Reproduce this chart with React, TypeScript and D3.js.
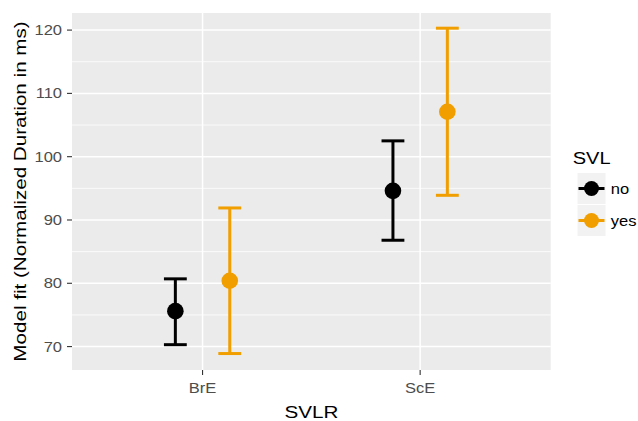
import React from "react";
import * as d3 from "d3";

// Model fits with confidence limits, per SVLR variety and SVL group
const categories = ["BrE", "ScE"];
const groups = ["no", "yes"];
const fitNo = [75.6, 94.6];
const lowerNo = [70.3, 86.8];
const upperNo = [80.7, 102.5];
const fitYes = [80.4, 107.1];
const lowerYes = [68.9, 93.9];
const upperYes = [91.9, 120.3];
const yTicks = [70, 80, 90, 100, 110, 120];
const yMinorTicks = [75, 85, 95, 105, 115];

const colors = ["#000000", "#F09E00"];

const W = 638;
const H = 421;
const panel = { left: 72, top: 13, right: 550.7, bottom: 370 };

const font = "'Liberation Sans', Arial, sans-serif";
const stretch = 1.18;

export default function App() {
  const x = d3
    .scaleLinear()
    .domain([0.4, categories.length + 0.6])
    .range([panel.left, panel.right]);
  const y = d3.scaleLinear().domain([66.3, 122.7]).range([panel.bottom, panel.top]);

  const dodge = 0.125;
  const capHalf = 0.0525;

  const series = [
    { name: groups[0], fit: fitNo, lo: lowerNo, hi: upperNo, color: colors[0], off: -dodge },
    { name: groups[1], fit: fitYes, lo: lowerYes, hi: upperYes, color: colors[1], off: dodge },
  ];

  const catPos = (i: number) => i + 1;

  return (
    <svg
      width={W}
      height={H}
      style={{ position: "absolute", left: 0, top: 0, background: "#fff" }}
      fontFamily={font}
    >
      {/* panel */}
      <rect
        x={panel.left}
        y={panel.top}
        width={panel.right - panel.left}
        height={panel.bottom - panel.top}
        fill="#EBEBEB"
      />
      {yMinorTicks.map((t) => (
        <line
          key={"mi" + t}
          x1={panel.left}
          x2={panel.right}
          y1={y(t)}
          y2={y(t)}
          stroke="#fff"
          strokeWidth={0.8}
        />
      ))}
      {yTicks.map((t) => (
        <line
          key={"ma" + t}
          x1={panel.left}
          x2={panel.right}
          y1={y(t)}
          y2={y(t)}
          stroke="#fff"
          strokeWidth={1.5}
        />
      ))}
      {categories.map((c, i) => (
        <line
          key={"vx" + c}
          x1={x(catPos(i))}
          x2={x(catPos(i))}
          y1={panel.top}
          y2={panel.bottom}
          stroke="#fff"
          strokeWidth={1.5}
        />
      ))}

      {/* error bars and points */}
      {series.map((s) =>
        categories.map((c, i) => {
          const cx = x(catPos(i) + s.off);
          const xl = x(catPos(i) + s.off - capHalf);
          const xr = x(catPos(i) + s.off + capHalf);
          return (
            <g key={s.name + c}>
              <line x1={cx} x2={cx} y1={y(s.lo[i])} y2={y(s.hi[i])} stroke={s.color} strokeWidth={3} />
              <line x1={xl} x2={xr} y1={y(s.hi[i])} y2={y(s.hi[i])} stroke={s.color} strokeWidth={3} />
              <line x1={xl} x2={xr} y1={y(s.lo[i])} y2={y(s.lo[i])} stroke={s.color} strokeWidth={3} />
              <circle cx={cx} cy={y(s.fit[i])} r={8.3} fill={s.color} />
            </g>
          );
        })
      )}

      {/* y axis */}
      {yTicks.map((t) => (
        <g key={"yt" + t}>
          <line x1={67} x2={panel.left} y1={y(t)} y2={y(t)} stroke="#333" strokeWidth={1.1} />
          <text
            transform={`translate(62,${y(t) + 5}) scale(${stretch},1)`}
            textAnchor="end"
            fontSize={14}
            fill="#4D4D4D"
          >
            {t}
          </text>
        </g>
      ))}

      {/* x axis */}
      {categories.map((c, i) => (
        <g key={"xt" + c}>
          <line
            x1={x(catPos(i))}
            x2={x(catPos(i))}
            y1={panel.bottom}
            y2={panel.bottom + 5}
            stroke="#333"
            strokeWidth={1.1}
          />
          <text
            transform={`translate(${x(catPos(i))},393) scale(${stretch},1)`}
            textAnchor="middle"
            fontSize={14}
            fill="#4D4D4D"
          >
            {c}
          </text>
        </g>
      ))}

      {/* axis titles */}
      <text
        transform={`translate(${(panel.left + panel.right) / 2},418) scale(1.2,1)`}
        textAnchor="middle"
        fontSize={17.2}
        fill="#000"
      >
        SVLR
      </text>
      <text
        transform={`translate(25.5,${(panel.top + panel.bottom) / 2}) rotate(-90) scale(1.2,1)`}
        textAnchor="middle"
        fontSize={17.2}
        fill="#000"
      >
        Model fit (Normalized Duration in ms)
      </text>

      {/* legend */}
      <text transform={`translate(572.7,164) scale(1.18,1)`} fontSize={17} fill="#000">
        SVL
      </text>
      {series.map((s, i) => {
        const top = 172.5 + i * 32;
        const cy = top + 16;
        return (
          <g key={"lg" + s.name}>
            <rect x={577} y={top} width={29} height={32} fill="#F2F2F2" stroke="#fff" strokeWidth={1} />
            <line x1={578.5} x2={604.5} y1={cy} y2={cy} stroke={s.color} strokeWidth={3} />
            <circle cx={591.5} cy={cy} r={7.5} fill={s.color} />
            <text
              transform={`translate(610.7,${cy + 5}) scale(${stretch},1)`}
              fontSize={14}
              fill="#000"
            >
              {s.name}
            </text>
          </g>
        );
      })}
    </svg>
  );
}
